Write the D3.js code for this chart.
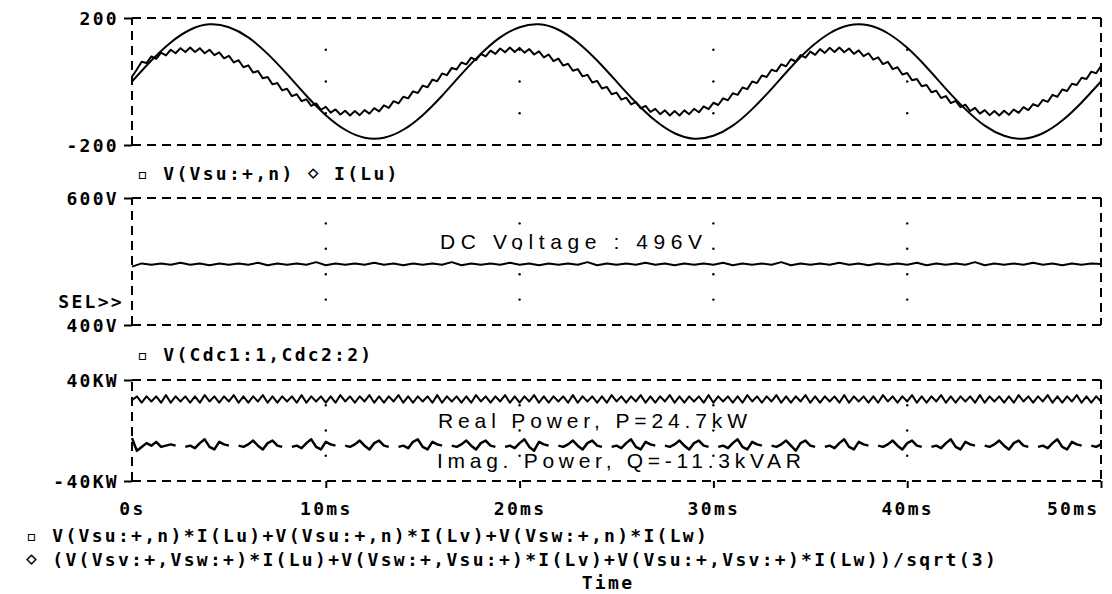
<!DOCTYPE html>
<html>
<head>
<meta charset="utf-8">
<script src="https://cdn.jsdelivr.net/npm/d3@7/dist/d3.min.js"></script>
<style>
body { margin: 0; background: #fff; }
.lbl { font-family: "DejaVu Sans Mono", monospace; font-weight: bold; font-size: 18px; letter-spacing: 2.3px; fill: #000; }
.note { font-family: "Liberation Sans", sans-serif; font-size: 21px; fill: #000; }
.frame path.domain { stroke: #000; stroke-width: 2; stroke-dasharray: 9,6; }
.frame .tick line { stroke: #000; stroke-width: 2; }
.trace { fill: none; stroke: #000; stroke-width: 2; stroke-linejoin: round; }
</style>
</head>
<body>
<svg id="chart" width="1112" height="594"></svg>
<script>
// time axis, ms
var tEnd = 50;
var timeTicks = [0, 10, 20, 30, 40, 50];

// V(Vsu:+,n), volts, every 1 ms
var phaseVoltage = [0,66,123,163,180,171,139,87,23,-45,-106,-152,-177,-177,-152,-106,-45,23,87,139,
  171,180,163,123,66,0,-66,-123,-163,-180,-171,-139,-87,-23,45,106,152,177,177,152,
  106,45,-23,-87,-139,-171,-180,-163,-123,-66,0];

// I(Lu), amps, every 0.25 ms
var phaseCurrent = [15,38,62,58,79,71,91,82,100,89,
  105,93,107,93,105,89,100,83,92,73,
  81,60,67,45,51,28,33,10,14,-9,
  -5,-28,-23,-46,-40,-62,-56,-77,-69,-89,
  -80,-98,-88,-104,-92,-107,-93,-106,-90,-101,
  -84,-94,-75,-83,-62,-69,-48,-53,-31,-36,
  -13,-18,6,1,25,20,43,38,60,54,
  75,67,87,79,97,87,104,92,107,93,
  106,91,102,85,95,76,85,64,72,50,
  56,34,39,16,21,-3,2,-22,-17,-40,
  -35,-57,-51,-72,-65,-85,-77,-96,-86,-103,
  -91,-107,-93,-107,-91,-103,-86,-97,-78,-87,
  -67,-74,-53,-59,-37,-42,-19,-24,0,-5,
  19,14,37,32,54,48,70,63,83,75,
  94,84,102,90,106,93,107,92,104,87,
  98,80,89,69,76,55,62,39,45,22,
  27,4,8,-15,-11,-34,-29,-52,-46,-68,
  -61,-81,-73,-93,-83,-101,-90,-106,-93,-107,
  -92,-105,-88,-99,-81,-90,-71,-78,-58,-64,
  -42,-48,-25,-30,-7,-11,12,8,31,26,
  49];

// V(Cdc1:1,Cdc2:2), volts, every 0.5 ms
var dcVoltage = [492,497,495,497,495,498,495,497,494,497,495,497,495,498,494,497,495,497,495,499,
  494,497,495,497,495,498,495,497,494,497,495,497,495,499,494,497,495,497,495,498,
  495,497,494,497,495,497,495,499,494,497,495,497,495,498,495,497,494,497,495,497,
  495,498,494,497,495,497,495,499,494,497,495,497,495,498,495,497,494,497,495,497,
  495,498,494,497,495,497,495,499,494,497,495,497,495,498,495,497,494,497,495,497,
  496];

// real power, kW, every 0.25 ms
var realPower = [24,27,22,27,23,27,22,28,22,27,23,27,22,27,22,28,23,27,22,27,
  23,28,22,27,22,27,23,28,22,27,22,27,23,27,22,28,22,27,23,27,
  22,27,22,28,23,27,22,27,23,28,22,27,22,27,23,28,22,27,22,27,
  23,27,22,28,22,27,23,27,22,27,22,28,23,27,22,27,23,28,22,27,
  22,27,23,28,22,27,22,27,23,27,22,28,22,27,23,27,22,27,22,28,
  23,27,22,27,23,28,22,27,22,27,23,28,22,27,22,27,23,27,22,28,
  22,27,23,27,22,27,22,28,23,27,22,27,23,28,22,27,22,27,23,28,
  22,27,22,27,23,27,22,28,22,27,23,27,22,27,22,28,23,27,22,27,
  23,28,22,27,22,27,23,28,22,27,22,27,23,27,22,28,22,27,23,27,
  22,27,22,28,23,27,22,27,23,28,22,27,22,27,23,28,22,27,22,27,
  23];

// imaginary power, kVAR, every 0.25 ms (null where the trace is not visible)
var imagPower = [-6,-16,-13,-10,-12,-9,-13,-12,-11,-12,null,
  -13,-12,-14,-10,-7,-13,-15,-9,-11,-12,null,
  -12,-13,-11,-8,-12,-15,-10,-8,-12,-13,null,
  -13,-12,-14,-10,-7,-13,-15,-9,-11,-12,null,
  -12,-13,-11,-8,-12,-15,-10,-8,-12,-13,null,
  -13,-12,-14,-9,-7,-13,-15,-9,-11,-12,null,
  -12,-13,-11,-8,-12,-15,-10,-8,-12,-13,null,
  -13,-12,-14,-10,-7,-13,-16,-9,-11,-12,null,
  -12,-13,-11,-8,-12,-15,-10,-8,-12,-13,null,
  -13,-12,-14,-10,-7,-13,-15,-9,-11,-12,null,
  -12,-13,-11,-8,-12,-15,-10,-8,-12,-13,null,
  -13,-12,-14,-10,-7,-13,-15,-9,-11,-12,null,
  -12,-13,-11,-8,-12,-16,-10,-8,-12,-13,null,
  -13,-12,-14,-10,-7,-13,-15,-9,-11,-12,null,
  -12,-13,-11,-8,-12,-15,-10,-8,-12,-13,null,
  -13,-12,-14,-10,-7,-13,-15,-9,-11,-12,null,
  -12,-13,-11,-8,-12,-15,-10,-8,-12,-13,null,
  -13,-12,-14,-10,-7,-13,-15,-9,-11,-12,null,
  -12,-13,-11];

var topLabels = ["-200", "200"];
var midLabels = ["400V", "600V"];
var botLabels = ["-40KW", "40KW"];

var svg = d3.select("#chart");
var left = 132, right = 1101;

var x = d3.scaleLinear().domain([0, tEnd]).range([left, right]);

function timeOf(arr) {
    return function(d, i) { return x(i * tEnd / (arr.length - 1)); };
}

function panel(top, bottom, domain, labels, divisions) {
    var y = d3.scaleLinear().domain(domain).range([bottom, top]);
    var g = svg.append("g");

    // dashed frame
    g.append("g").attr("class", "frame")
        .attr("transform", "translate(" + left + ",0)")
        .call(d3.axisLeft(y).tickValues(domain).tickSize(8).tickPadding(5)
            .tickFormat(function(d, i) { return labels[i]; }))
        .selectAll("text").attr("class", "lbl").attr("dy", "0.36em");
    [top, bottom].forEach(function(yy) {
        g.append("line").attr("x1", left).attr("x2", right).attr("y1", yy).attr("y2", yy)
            .attr("stroke", "#000").attr("stroke-width", 2).attr("stroke-dasharray", "9,6");
    });
    g.append("line").attr("x1", right).attr("x2", right).attr("y1", top).attr("y2", bottom)
        .attr("stroke", "#000").attr("stroke-width", 2).attr("stroke-dasharray", "9,6");

    // dotted grid
    var yGrid = d3.range(1, divisions).map(function(k) {
        return domain[0] + (domain[1] - domain[0]) * k / divisions;
    });
    timeTicks.slice(1, -1).forEach(function(t) {
        yGrid.forEach(function(v) {
            g.append("circle").attr("cx", x(t)).attr("cy", y(v)).attr("r", 1.2).attr("fill", "#000");
        });
    });
    g.selectAll(".frame .domain").attr("d", "M0," + bottom + "V" + top);
    return { g: g, y: y };
}

function trace(p, arr, curve, width) {
    p.g.append("path").datum(arr).attr("class", "trace")
        .style("stroke-width", width || 2)
        .attr("d", d3.line()
            .defined(function(d) { return d !== null; })
            .x(timeOf(arr))
            .y(function(d) { return p.y(d); })
            .curve(curve || d3.curveLinear));
}

// top: phase voltage and current
var p1 = panel(18, 145, [-200, 200], topLabels, 4);
trace(p1, phaseVoltage, d3.curveNatural);
trace(p1, phaseCurrent);

// middle: dc link voltage
var p2 = panel(198, 325, [400, 600], midLabels, 5);
trace(p2, dcVoltage);

// bottom: real and imaginary power
var p3 = panel(380, 481, [-40, 40], botLabels, 4);
trace(p3, realPower);
trace(p3, imagPower, null, 2.5);

// time axis
var xAxis = svg.append("g").attr("class", "frame")
    .attr("transform", "translate(0,481)")
    .call(d3.axisBottom(x).tickValues(timeTicks).tickSize(7).tickPadding(14)
        .tickFormat(function(d) { return d === 0 ? "0s" : d + "ms"; }));
xAxis.select(".domain").remove();
xAxis.selectAll("text").attr("class", "lbl");
xAxis.selectAll(".tick").filter(function(d) { return d === tEnd; })
    .select("text").attr("text-anchor", "end").attr("x", -2);
xAxis.selectAll(".tick").filter(function(d) { return d === 0; }).select("line").remove();

svg.append("text").attr("class", "lbl").attr("x", 124).attr("y", 308)
    .attr("text-anchor", "end").text("SEL>>");

// legends
svg.append("text").attr("class", "lbl").attr("x", 137).attr("y", 180).text("\u25AB V(Vsu:+,n) \u22C4 I(Lu)");
svg.append("text").attr("class", "lbl").attr("x", 137).attr("y", 361).text("\u25AB V(Cdc1:1,Cdc2:2)");
svg.append("text").attr("class", "lbl").attr("x", 26).attr("y", 542)
    .text("\u25AB V(Vsu:+,n)*I(Lu)+V(Vsu:+,n)*I(Lv)+V(Vsw:+,n)*I(Lw)");
svg.append("text").attr("class", "lbl").attr("x", 26).attr("y", 566)
    .text("\u22C4 (V(Vsv:+,Vsw:+)*I(Lu)+V(Vsw:+,Vsu:+)*I(Lv)+V(Vsu:+,Vsv:+)*I(Lw))/sqrt(3)");
svg.append("text").attr("class", "lbl").attr("x", 608).attr("y", 589)
    .attr("text-anchor", "middle").text("Time");

// annotations
svg.append("text").attr("class", "note").attr("x", 440).attr("y", 249)
    .attr("textLength", 262).attr("font-size", 22).text("DC Voltage : 496V");
svg.append("text").attr("class", "note").attr("x", 438).attr("y", 428)
    .attr("textLength", 309).text("Real Power, P=24.7kW");
svg.append("text").attr("class", "note").attr("x", 437).attr("y", 468)
    .attr("textLength", 364).text("Imag. Power, Q=-11.3kVAR");
</script>
</body>
</html>
